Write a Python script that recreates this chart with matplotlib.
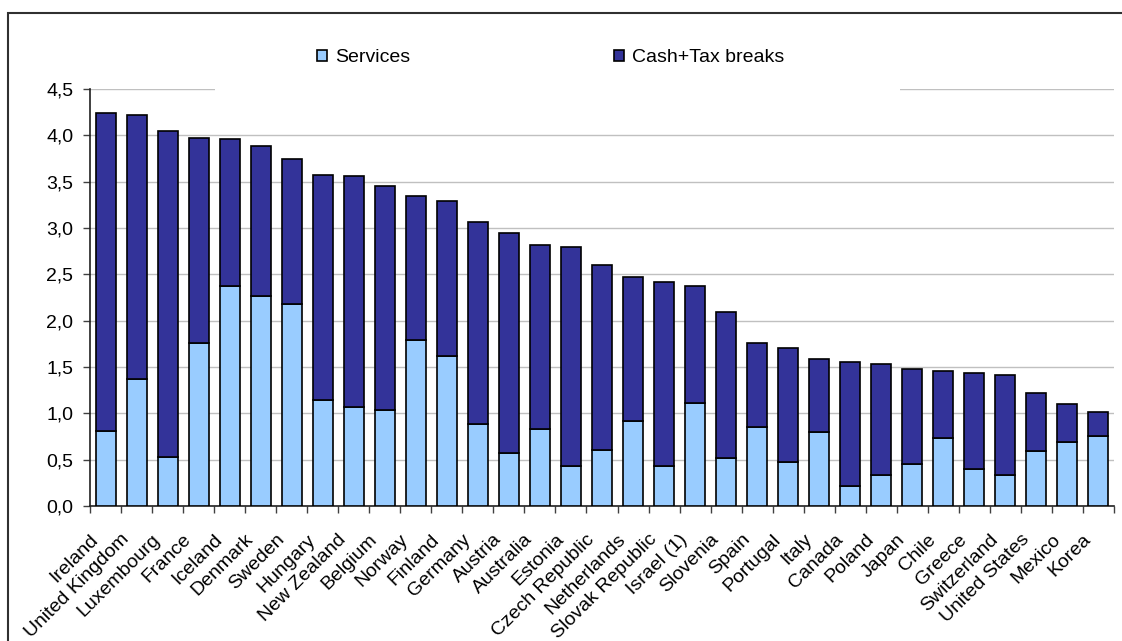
import matplotlib
matplotlib.use("Agg")
import matplotlib.pyplot as plt
from matplotlib.patches import Rectangle, Patch
from matplotlib.transforms import ScaledTranslation
import numpy as np

countries = ["Ireland", "United Kingdom", "Luxembourg", "France", "Iceland", "Denmark",
             "Sweden", "Hungary", "New Zealand", "Belgium", "Norway", "Finland", "Germany",
             "Austria", "Australia", "Estonia", "Czech Republic", "Netherlands",
             "Slovak Republic", "Israel (1)", "Slovenia", "Spain", "Portugal", "Italy",
             "Canada", "Poland", "Japan", "Chile", "Greece", "Switzerland",
             "United States", "Mexico", "Korea"]
totals = [4.24, 4.22, 4.05, 3.97, 3.96, 3.89, 3.75, 3.57, 3.56, 3.45, 3.35, 3.29, 3.07,
          2.95, 2.82, 2.79, 2.60, 2.47, 2.42, 2.37, 2.09, 1.76, 1.70, 1.59,
          1.55, 1.53, 1.48, 1.46, 1.43, 1.41, 1.22, 1.10, 1.01]
services = [0.81, 1.37, 0.53, 1.76, 2.37, 2.27, 2.18, 1.14, 1.07, 1.04, 1.79, 1.62, 0.88,
            0.57, 0.83, 0.43, 0.60, 0.92, 0.43, 1.11, 0.52, 0.85, 0.47, 0.80,
            0.22, 0.33, 0.45, 0.73, 0.40, 0.33, 0.59, 0.69, 0.76]
cash_tax = [t - s for t, s in zip(totals, services)]
yticks = [0.0, 0.5, 1.0, 1.5, 2.0, 2.5, 3.0, 3.5, 4.0, 4.5]
ytick_labels = ["0,0", "0,5", "1,0", "1,5", "2,0", "2,5", "3,0", "3,5", "4,0", "4,5"]

plt.rcParams['font.family'] = ['Liberation Sans', 'DejaVu Sans']
FS = 14
W, H = 1122, 641
fig = plt.figure(figsize=(W / 100, H / 100), dpi=100)
ax = fig.add_axes([90 / W, 1 - 506 / H, (1114 - 90) / W, (506 - 89) / H])

c_serv = "#99CCFF"
c_cash = "#333399"
x = np.arange(len(countries))
ax.bar(x, services, width=0.645, color=c_serv, edgecolor="black", linewidth=1.2, zorder=3)
ax.bar(x, cash_tax, bottom=services, width=0.645, color=c_cash, edgecolor="black",
       linewidth=1.2, zorder=3)

ax.set_xlim(-0.5, len(countries) - 0.5)
ax.set_ylim(0, 4.5)
ax.set_yticks(yticks)
ax.set_yticklabels(ytick_labels, fontsize=FS)
ax.yaxis.grid(True, color="#C0C0C0", linewidth=1.0, zorder=0)
ax.set_axisbelow(True)

ax.set_xticks(x)
ax.set_xticklabels(countries, rotation=45, ha="right", rotation_mode="anchor", fontsize=FS)
ax.tick_params(axis="x", which="major", length=0, pad=0)
off = ScaledTranslation(-16 / 100, -25 / 100, fig.dpi_scale_trans)
for lbl in ax.get_xticklabels():
    lbl.set_transform(lbl.get_transform() + off)
ax.set_xticks(np.arange(-0.5, len(countries), 1.0), minor=True)
ax.tick_params(axis="x", which="minor", length=5, width=1.0, color="#404040", direction="out")
ax.tick_params(axis="y", length=5, width=1.0, color="#404040", direction="out", pad=7)

for s in ["top", "right"]:
    ax.spines[s].set_visible(False)
for s in ["left", "bottom"]:
    ax.spines[s].set_color("#202020")
    ax.spines[s].set_linewidth(1.2)

# white area behind legend
fig.patches.append(Rectangle((215 / W, 1 - 95 / H), (900 - 215) / W, 60 / H,
                             transform=fig.transFigure, facecolor="white",
                             edgecolor="none", zorder=5))
handles = [Patch(facecolor=c_serv, edgecolor="black", linewidth=1.2, label="Services"),
           Patch(facecolor=c_cash, edgecolor="black", linewidth=1.2, label="Cash+Tax breaks")]
leg = fig.legend(handles=handles, loc="center left", bbox_to_anchor=(317 / W, 1 - 58 / H),
                 ncol=2, frameon=False, fontsize=FS, handlelength=0.52, handleheight=0.52,
                 handletextpad=0.4, columnspacing=10.5, borderpad=0, borderaxespad=0)
leg.set_zorder(6)

# outer frame
fig.patches.append(Rectangle((8 / W, -0.05), 1.1, 1 - 13 / H + 0.05,
                             transform=fig.transFigure, facecolor="none",
                             edgecolor="#303030", linewidth=1.5, zorder=0))

fig.savefig("out.png", dpi=100)
